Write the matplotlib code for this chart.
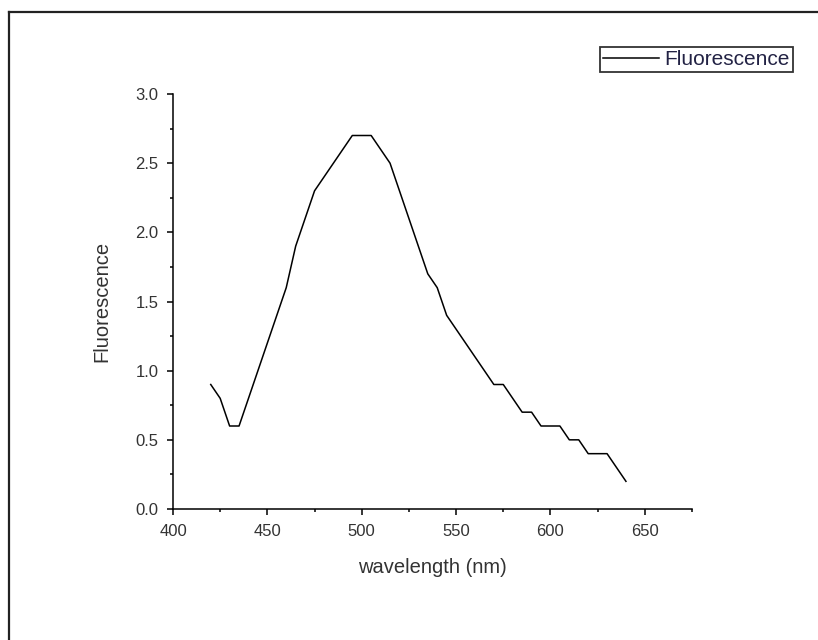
import matplotlib
matplotlib.use("Agg")
import matplotlib.pyplot as plt
from matplotlib.lines import Line2D
from matplotlib.ticker import MultipleLocator, FormatStrFormatter

wavelength = [420, 425, 430, 435, 440, 445, 450, 455, 460, 465, 470, 475,
              480, 485, 490, 495, 500, 505, 510, 515, 520, 525, 530, 535,
              540, 545, 550, 555, 560, 565, 570, 575, 580, 585, 590, 595,
              600, 605, 610, 615, 620, 625, 630, 635, 640]
fluorescence = [0.9, 0.8, 0.6, 0.6, 0.8, 1.0, 1.2, 1.4, 1.6, 1.9, 2.1, 2.3,
                2.4, 2.5, 2.6, 2.7, 2.7, 2.7, 2.6, 2.5, 2.3, 2.1, 1.9, 1.7,
                1.6, 1.4, 1.3, 1.2, 1.1, 1.0, 0.9, 0.9, 0.8, 0.7, 0.7, 0.6,
                0.6, 0.6, 0.5, 0.5, 0.4, 0.4, 0.4, 0.3, 0.2]
series_name = "Fluorescence"
x_label = "wavelength (nm)"
y_label = "Fluorescence"

plt.rcParams['font.family'] = ['Liberation Sans', 'DejaVu Sans']

W, H = 818, 640
fig = plt.figure(figsize=(W / 100, H / 100), dpi=100)
ax = fig.add_axes([173 / W, 1 - 509 / H, (692 - 173) / W, (509 - 94) / H])

ax.plot(wavelength, fluorescence, color='black', lw=1.1, label=series_name)

ax.set_xlim(400, 675)
ax.set_ylim(0, 3.0)
ax.xaxis.set_major_locator(MultipleLocator(50))
ax.xaxis.set_minor_locator(MultipleLocator(25))
ax.yaxis.set_major_locator(MultipleLocator(0.5))
ax.yaxis.set_minor_locator(MultipleLocator(0.25))
ax.yaxis.set_major_formatter(FormatStrFormatter('%.1f'))

for s in ['top', 'right']:
    ax.spines[s].set_visible(False)
for s in ['left', 'bottom']:
    ax.spines[s].set_linewidth(1.1)

ax.tick_params(which='major', direction='out', length=4.5, width=1.1,
               labelsize=12, colors='black')
ax.tick_params(which='minor', direction='out', length=2.5, width=1.1)
ax.tick_params(axis='x', which='major', pad=6)
ax.tick_params(axis='y', which='major', pad=6)
for lab in ax.get_xticklabels() + ax.get_yticklabels():
    lab.set_color('#333333')

ax.set_xlabel(x_label, fontsize=14.5, labelpad=14, color='#333333')
ax.set_ylabel(y_label, fontsize=14.5, labelpad=17, color='#333333')

leg = fig.legend(loc='upper right', bbox_to_anchor=(793 / W, 1 - 47 / H),
                 bbox_transform=fig.transFigure, fontsize=15,
                 frameon=True, fancybox=False, handlelength=2.7,
                 handletextpad=0.25, borderpad=0.15, borderaxespad=0)
leg.get_frame().set_edgecolor('black')
leg.get_frame().set_linewidth(1.3)
for t in leg.get_texts():
    t.set_color('#222244')

# page frame (left and top edges visible)
fig.add_artist(Line2D([9 / W, 9 / W], [0, 1 - 12 / H], transform=fig.transFigure,
                      color='#222222', lw=1.6))
fig.add_artist(Line2D([9 / W, 1], [1 - 12 / H, 1 - 12 / H], transform=fig.transFigure,
                      color='#222222', lw=1.6))

fig.savefig('out.png', dpi=100)
